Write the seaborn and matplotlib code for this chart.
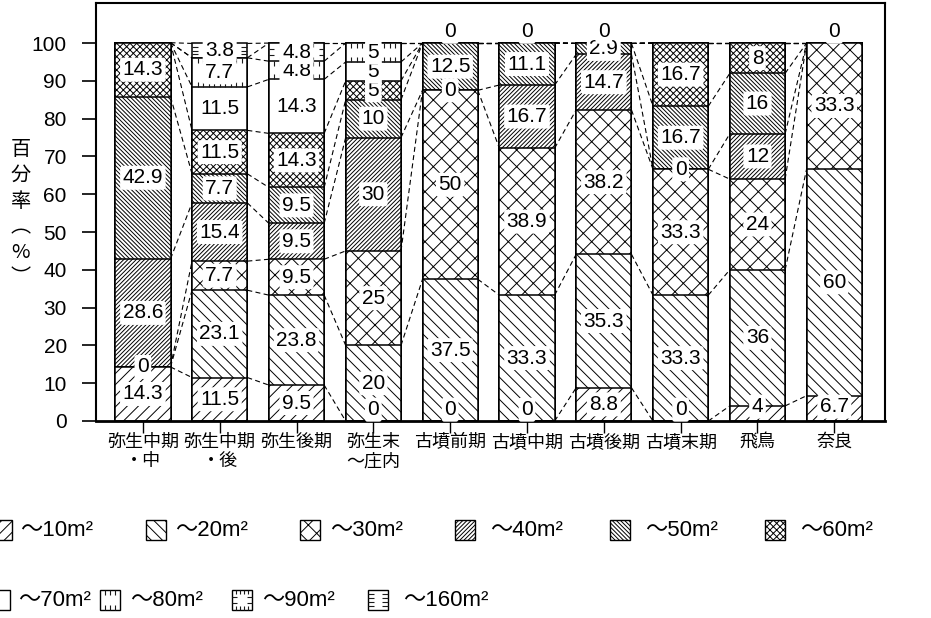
import numpy as np
import pandas as pd
import matplotlib
matplotlib.use("Agg")
import matplotlib.pyplot as plt
import seaborn as sns
from matplotlib.patches import Rectangle

# ---------------- data ----------------
periods = ["弥生中期\n・中", "弥生中期\n・後", "弥生後期", "弥生末\n～庄内", "古墳前期",
           "古墳中期", "古墳後期", "古墳末期", "飛鳥", "奈良"]
sizes = ["～10m²", "～20m²", "～30m²", "～40m²", "～50m²", "～60m²",
         "～70m²", "～80m²", "～90m²", "～160m²"]

s10 = [14.3, 11.5, 9.5, 0, 0, 0, 8.8, 0, 4, 6.7]
s20 = [0, 23.1, 23.8, 20, 37.5, 33.3, 35.3, 33.3, 36, 60]
s30 = [None, 7.7, 9.5, 25, 50, 38.9, 38.2, 33.3, 24, 33.3]
s40 = [28.6, 15.4, 9.5, 30, 0, 16.7, 14.7, 0, 12, 0]
s50 = [42.9, 7.7, 9.5, 10, 12.5, 11.1, 2.9, 16.7, 16, None]
s60 = [14.3, 11.5, 14.3, 5, 0, 0, 0, 16.7, 8, None]
s70 = [None, 11.5, 14.3, 5, None, None, None, None, None, None]
s80 = [None, 7.7, 4.8, 5, None, None, None, None, None, None]
s90 = [None, None, 4.8, None, None, None, None, None, None, None]
s160 = [None, 3.8, None, None, None, None, None, None, None, None]

yticks = [0, 10, 20, 30, 40, 50, 60, 70, 80, 90, 100]

series = [s10, s20, s30, s40, s50, s60, s70, s80, s90, s160]
vals = np.array([[np.nan if v is None else v for v in s] for s in series], dtype=float)
filled = np.nan_to_num(vals)
cum_top = np.cumsum(filled, axis=0)
cum_bot = cum_top - filled

# ---------------- style ----------------
sns.set_theme(style="white")
plt.rcParams["font.family"] = ["Liberation Sans", "Noto Sans CJK JP", "DejaVu Sans"]
plt.rcParams["hatch.linewidth"] = 0.7
plt.rcParams["axes.edgecolor"] = "black"
plt.rcParams["xtick.color"] = "black"
plt.rcParams["ytick.color"] = "black"
plt.rcParams["text.color"] = "black"

hatches = ["///", "\\\\\\", "xx", "////////", "\\\\\\\\\\\\\\\\", "xxxxx", "", "", "", ""]
kinds = [None, None, None, None, None, None, None, "ruler", "cross", "side"]

W = 0.72

fig = plt.figure(figsize=(9.31, 6.18), dpi=100)
ax = fig.add_axes([96 / 931, 1 - 421 / 618, (885 - 96) / 931, (421 - 3) / 618])


def decorate(a, xl, xr, yb, yt, kind, ux, uy, lw=0.8):
    """draw tick-like fill patterns; ux/uy = data units per pixel (uy signed: + is visually up)"""
    if kind == "ruler":
        n = max(int(abs(xr - xl) / ux / 6), 2)
        xs = np.linspace(xl, xr, n + 2)[1:-1]
        L = 5 * uy
        a.vlines(xs, yt - L, yt, color="k", lw=lw)
        a.vlines(xs, yb, yb + L, color="k", lw=lw)
    elif kind == "cross":
        xs = np.linspace(xl, xr, 6)[1:-1]
        L = 4 * uy
        a.vlines(xs, yt - L, yt, color="k", lw=lw)
        a.vlines(xs, yb, yb + L, color="k", lw=lw)
        ym = [yb + (yt - yb) * f for f in (0.35, 0.65)]
        a.hlines(ym, xl, xl + 5 * ux, color="k", lw=lw)
        a.hlines(ym, xr - 5 * ux, xr, color="k", lw=lw)
    elif kind == "side":
        hpx = abs(yt - yb) / abs(uy)
        n = max(int(hpx / 4.5), 2)
        ys = np.linspace(yb, yt, n + 2)[1:-1]
        a.hlines(ys, xl, xl + 6 * ux, color="k", lw=lw)
        a.hlines(ys, xr - 6 * ux, xr, color="k", lw=lw)


# stacked bars: draw cumulative tops from the highest class down (opaque white fill)
for k in reversed(range(len(series))):
    df = pd.DataFrame({"period": periods, "cum": cum_top[k]})
    sns.barplot(data=df, x="period", y="cum", order=periods, color="white",
                saturation=1, edgecolor="black", linewidth=1.1, hatch=hatches[k],
                width=W, errorbar=None, ax=ax, zorder=2)

ux = (9.66 + 0.61) / (885 - 96)
uy = 110.6 / (421 - 3)
for k, kind in enumerate(kinds):
    if kind is None:
        continue
    for i in range(len(periods)):
        if not np.isnan(vals[k, i]) and vals[k, i] > 0:
            decorate(ax, i - W / 2, i + W / 2, cum_bot[k, i], cum_top[k, i], kind, ux, uy)

# dashed connectors between class boundaries of neighbouring bars
for k in range(len(series)):
    for i in range(len(periods) - 1):
        ax.plot([i + W / 2, i + 1 - W / 2], [cum_top[k, i], cum_top[k, i + 1]],
                ls=(0, (4.5, 3)), color="black", lw=0.8, zorder=1)

# value labels
for k in range(len(series)):
    for i in range(len(periods)):
        v = vals[k, i]
        if np.isnan(v):
            continue
        if v == 0:
            if cum_bot[k, i] <= 0:
                y = 3
            elif cum_bot[k, i] >= 99.9:
                y = 103.0
            else:
                y = cum_bot[k, i]
        else:
            y = max((cum_bot[k, i] + cum_top[k, i]) / 2, 3.8)
        ax.text(i, y, f"{v:g}", ha="center", va="center", fontsize=15, zorder=5,
                bbox=dict(boxstyle="round,pad=0.12", fc="white", ec="none"))

ax.set_xlim(-0.61, 9.66)
ax.set_ylim(0, 110.6)
ax.set_yticks(yticks)
ax.set_yticklabels([str(t) for t in yticks], fontsize=15)
ax.set_xticks(range(len(periods)))
ax.set_xticklabels(periods, fontsize=13, linespacing=1.15)
ax.set_xlabel("")
ax.set_ylabel("")
ax.tick_params(axis="y", direction="out", length=10, width=1.2, pad=11, left=True)
ax.tick_params(axis="x", direction="out", length=8.5, width=1.0, pad=1, bottom=True)
for sp in ax.spines.values():
    sp.set_visible(True)
    sp.set_linewidth(1.5)
    sp.set_color("black")
ax.spines["bottom"].set_linewidth(2)
ax.grid(False)

# vertical y-axis title
fig.text(21 / 931, 1 - 214 / 618, "百\n分\n率\n︵\n%\n︶", ha="center", va="center",
         fontsize=14.5, linespacing=1.3, family=["Noto Sans CJK JP", "DejaVu Sans"])

# ---------------- legend (figure pixel coordinates) ----------------
lax = fig.add_axes([0, 0, 1, 1])
lax.set_xlim(0, 931)
lax.set_ylim(618, 0)
lax.set_axis_off()

rows = [
    (530, [-8, 146, 300, 455, 610, 765], [20, 175, 330, 490, 645, 800]),
    (600, [-10, 100, 232, 368], [18, 130, 262, 403]),
]
idx = 0
for yc, boxes, texts in rows:
    for bx, tx in zip(boxes, texts):
        r = Rectangle((bx, yc - 10), 20, 20, facecolor="white", edgecolor="black",
                      lw=1.0, hatch=hatches[idx])
        lax.add_patch(r)
        if kinds[idx] is not None:
            decorate(lax, bx, bx + 20, yc + 10, yc - 10, kinds[idx], 1, -1, lw=0.8)
        lax.text(tx, yc, sizes[idx], ha="left", va="center", fontsize=16)
        idx += 1

fig.savefig("out.png", dpi=100, facecolor="white")
